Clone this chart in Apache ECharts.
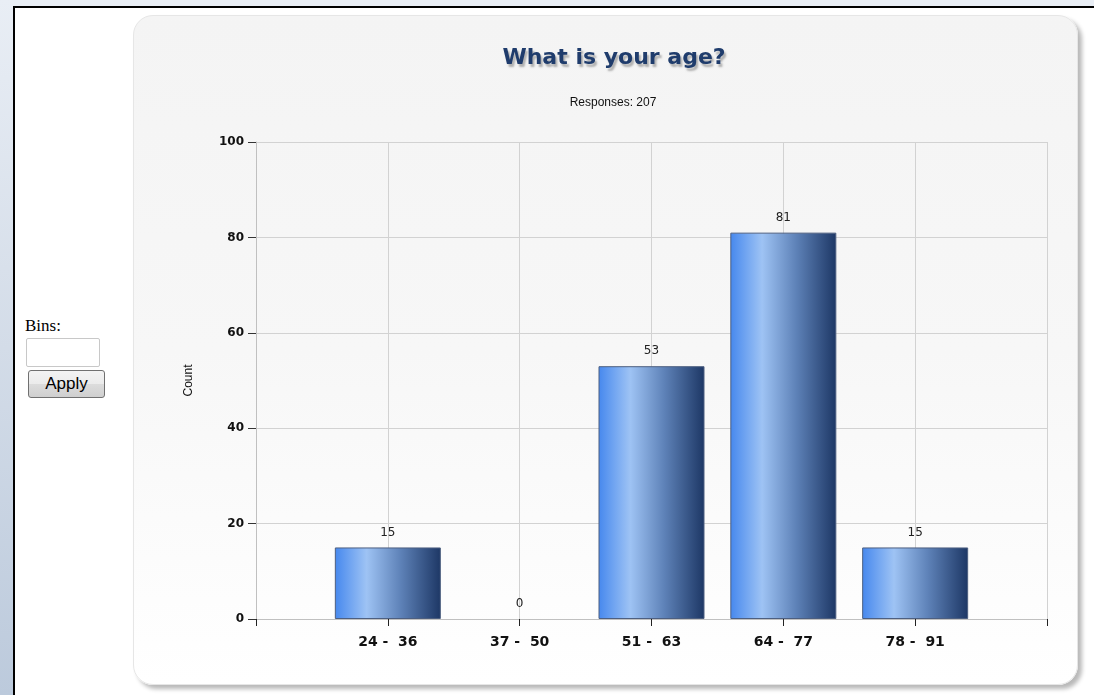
<!DOCTYPE html>
<html>
<head>
<meta charset="utf-8">
<title>What is your age?</title>
<script src="https://cdn.jsdelivr.net/npm/echarts@6/dist/echarts.min.js"></script>
<style>
  html, body { margin: 0; padding: 0; width: 1094px; height: 695px; overflow: hidden; background: #fff; }
  #topStrip { position: absolute; left: 0; top: 0; width: 1094px; height: 6px; background: #e9eef5; }
  #leftStrip { position: absolute; left: 0; top: 0; width: 13px; height: 695px;
    background: linear-gradient(to bottom, #e9eef5 0%, #d3dce8 50%, #bccadc 100%); }
  #frameTop { position: absolute; left: 13px; top: 6px; width: 1081px; height: 2px; background: #000; }
  #frameLeft { position: absolute; left: 13px; top: 6px; width: 2px; height: 689px; background: #000; }
  #panel { position: absolute; left: 133px; top: 15px; width: 943px; height: 668px;
    border: 1px solid #e6e6e6; border-radius: 20px;
    background: linear-gradient(to bottom, #f4f4f4 0%, #f7f7f7 50%, #ffffff 100%);
    box-shadow: 4px 4px 4px rgba(0,0,0,0.28); }
  #binsLabel { position: absolute; left: 25px; top: 316px; font-family: "Liberation Serif", "DejaVu Serif", serif; font-size: 17px; color: #000; }
  #binsInput { position: absolute; left: 26px; top: 338px; width: 68px; height: 27px; border: 1px solid #c8c8c8; border-radius: 2px; background: #fff; padding: 0 2px; }
  #applyBtn { position: absolute; left: 28px; top: 370px; width: 77px; height: 28px;
    font-family: "Liberation Sans", Arial, sans-serif; font-size: 17px; color: #000;
    border: 1px solid #707070; border-radius: 3px;
    background: linear-gradient(to bottom, #f3f3f3 0%, #ebebeb 50%, #dcdcdc 51%, #cfcfcf 100%); padding: 0; }
  #chart { position: absolute; left: 0; top: 0; width: 1094px; height: 695px; }
</style>
</head>
<body>
<div id="topStrip"></div>
<div id="leftStrip"></div>
<div id="frameTop"></div>
<div id="frameLeft"></div>
<div id="panel"></div>
<div id="binsLabel">Bins:</div>
<input id="binsInput" type="text">
<button id="applyBtn">Apply</button>
<div id="chart"></div>
<script>
// Age bins and response counts
const bins = ['24 -  36', '37 -  50', '51 -  63', '64 -  77', '78 -  91'];
const counts = [15, 0, 53, 81, 15];
const yTicks = [0, 20, 40, 60, 80, 100];
const titleText = 'What is your age?';
const subtitleText = 'Responses: 207';

// each bin sits on an integer slot of the x axis (1..n), with one empty slot at each end;
// empty bins get no outline so only their value label shows
const barData = bins.map((b, i) => ({
  value: [i + 1, counts[i]],
  itemStyle: counts[i] === 0 ? { borderWidth: 0, opacity: 0 } : undefined
}));

const chart = echarts.init(document.getElementById('chart'), null, { renderer: 'canvas' });

const barGradient = new echarts.graphic.LinearGradient(0, 0, 1, 0, [
  { offset: 0, color: '#4688ee' },
  { offset: 0.3, color: '#9ec3f4' },
  { offset: 0.62, color: '#5e82b8' },
  { offset: 1, color: '#1d3765' }
]);

chart.setOption({
  animation: false,
  backgroundColor: 'transparent',
  title: [
    {
      text: titleText,
      left: 609, top: 42, textAlign: 'center',
      textStyle: {
        fontFamily: '"DejaVu Sans", sans-serif', fontWeight: 'bold', fontSize: 22, color: '#1f3c6c',
        textShadowColor: 'rgba(0,0,0,0.28)', textShadowBlur: 2, textShadowOffsetX: 2, textShadowOffsetY: 3
      }
    },
    {
      text: subtitleText,
      left: 608, top: 92, textAlign: 'center',
      textStyle: { fontFamily: '"Liberation Sans", Arial, sans-serif', fontWeight: 'normal', fontSize: 12, color: '#111' }
    }
  ],
  grid: { left: 256, top: 142, width: 791, height: 477, containLabel: false },
  xAxis: {
    type: 'value',
    min: 0, max: bins.length + 1, interval: 1,
    axisLine: { show: true, lineStyle: { color: '#c0c0c0', width: 1 } },
    axisTick: { show: true, length: 7, lineStyle: { color: '#222', width: 1 } },
    splitLine: { show: true, lineStyle: { color: '#d2d2d2', width: 1 } },
    axisLabel: {
      margin: 16,
      fontFamily: '"DejaVu Sans", sans-serif', fontWeight: 'bold', fontSize: 14, color: '#111',
      formatter: v => bins[v - 1] || ''
    }
  },
  yAxis: {
    type: 'value',
    min: yTicks[0], max: yTicks[yTicks.length - 1], interval: 20,
    name: 'Count', nameLocation: 'middle', nameGap: 61, nameRotate: 90,
    nameTextStyle: { fontFamily: '"Liberation Sans", Arial, sans-serif', fontSize: 12, color: '#111' },
    axisLine: { show: true, lineStyle: { color: '#c0c0c0', width: 1 } },
    axisTick: { show: true, length: 8, lineStyle: { color: '#333', width: 1 } },
    splitLine: { show: true, lineStyle: { color: '#d2d2d2', width: 1 } },
    axisLabel: {
      margin: 12,
      fontFamily: '"DejaVu Sans", sans-serif', fontWeight: 'bold', fontSize: 12, color: '#111'
    }
  },
  series: [{
    type: 'bar',
    data: barData,
    barWidth: 106,
    itemStyle: { color: barGradient, borderColor: '#4d5f80', borderWidth: 1 },
    label: {
      show: true, position: 'top', distance: 9,
      fontFamily: '"DejaVu Sans", sans-serif', fontSize: 12, color: '#222',
      opacity: 1,
      formatter: p => String(p.value[1])
    }
  }]
});
</script>
</body>
</html>
